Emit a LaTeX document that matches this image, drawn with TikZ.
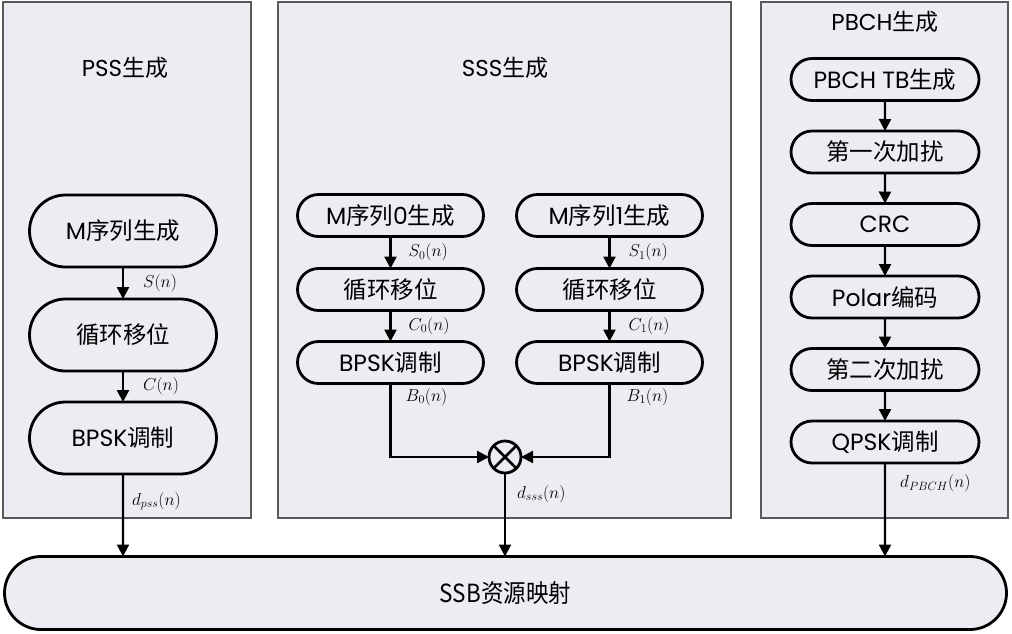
\documentclass[tikz,border=0pt]{standalone}
\usepackage{fontspec}
\setmainfont{Poppins}
\newfontfamily\cjk{Noto Sans CJK SC}
\newfontfamily\ssbfont[FakeStretch=0.9]{Noto Sans CJK SC}
\usepackage{tikz}
\usetikzlibrary{positioning,shapes.misc,arrows.meta}
\definecolor{panelbg}{RGB}{238,235,242}
\definecolor{panelline}{RGB}{90,90,90}
\tikzset{panel/.style={draw=panelline, line width=1.2pt, fill=panelbg}}
\tikzset{block/.style={rounded rectangle, draw, line width=2.8pt, fill=panelbg, outer sep=0pt,
  minimum height=42pt, inner sep=0pt, font=\fontsize{23.5}{25}\selectfont}}
\tikzset{title/.style={font=\fontsize{23}{25}\selectfont}}
\tikzset{sig/.style={-{Triangle[length=12pt,width=12pt]}, line width=2.4pt}}
\tikzset{lbl/.style={font=\fontsize{17}{19}\selectfont, inner sep=1pt}}
\tikzset{mixer/.style={circle, draw, line width=2.8pt, fill=panelbg, minimum size=32pt,
  inner sep=0pt, outer sep=0pt, path picture={
    \draw[line width=2.8pt] (path picture bounding box.north west) -- (path picture bounding box.south east)
      (path picture bounding box.north east) -- (path picture bounding box.south west);}}}

\begin{document}
\begin{tikzpicture}[x=1pt,y=-1pt,node distance=28pt]
  \useasboundingbox (0,0) rectangle (1012,633);
  % the three background panels
  \draw[panel] (3,2) rectangle (251,518);
  \draw[panel] (278,2) rectangle (731,518);
  \draw[panel] (761,2) rectangle (1008,518);

  \node[title] (pssTitle) at (125,68) {PSS{\cjk 生成}};
  \node[title] (sssTitle) at (505,68) {SSS{\cjk 生成}};
  \node[title] (pbchTitle) at (885,22) {PBCH{\cjk 生成}};

  % PSS chain
  \node[block, minimum width=187pt, minimum height=72pt] (pssM) at (123,231) {M{\cjk 序列生成}};
  \node[block, minimum width=187pt, minimum height=72pt] (pssShift) [below=32pt of pssM] {{\cjk 循环移位}};
  \node[block, minimum width=187pt, minimum height=72pt] (pssBpsk) [below=31pt of pssShift] {BPSK{\cjk 调制}};

  % SSS chains, sequence 0 left and sequence 1 right
  \node[block, minimum width=186pt] (sss0M) at (390.5,215.5) {M{\cjk 序列}0{\cjk 生成}};
  \node[block, minimum width=186pt] (sss0Shift) [below=32pt of sss0M] {{\cjk 循环移位}};
  \node[block, minimum width=186pt] (sss0Bpsk) [below=31pt of sss0Shift] {BPSK{\cjk 调制}};
  \node[block, minimum width=186pt] (sss1M) at (609.5,215.5) {M{\cjk 序列}1{\cjk 生成}};
  \node[block, minimum width=186pt] (sss1Shift) [below=32pt of sss1M] {{\cjk 循环移位}};
  \node[block, minimum width=186pt] (sss1Bpsk) [below=31pt of sss1Shift] {BPSK{\cjk 调制}};
  \node[mixer] (mult) at (505,457) {};

  % PBCH chain
  \node[block, minimum width=188pt] (pbch1) at (885,79.5) {PBCH TB{\cjk 生成}};
  \node[block, minimum width=188pt] (pbch2) [below=30.5pt of pbch1] {{\cjk 第一次加扰}};
  \node[block, minimum width=188pt] (pbch3) [below=30.5pt of pbch2] {CRC};
  \node[block, minimum width=188pt] (pbch4) [below=30.5pt of pbch3] {Polar{\cjk 编码}};
  \node[block, minimum width=188pt] (pbch5) [below=30.5pt of pbch4] {{\cjk 第二次加扰}};
  \node[block, minimum width=188pt] (pbch6) [below=30.5pt of pbch5] {QPSK{\cjk 调制}};

  % resource mapping
  \node[block, minimum width=1002pt, minimum height=73pt, font=\fontsize{25}{27}\ssbfont] (ssb) at (505.5,593) {SSB资源映射};

  \draw[sig] (pssM) -- node[lbl, right=18pt] {$S(n)$} (pssShift);
  \draw[sig] (pssShift) -- node[lbl, right=18pt] {$C(n)$} (pssBpsk);
  \draw[sig] (pssBpsk) -- node[lbl, pos=0.33, right=7pt] {$d_{pss}(n)$} (pssBpsk |- ssb.north);

  \draw[sig] (sss0M) -- node[lbl, right=16pt] {$S_0(n)$} (sss0Shift);
  \draw[sig] (sss0Shift) -- node[lbl, right=16pt] {$C_0(n)$} (sss0Bpsk);
  \draw[sig] (sss1M) -- node[lbl, right=17pt] {$S_1(n)$} (sss1Shift);
  \draw[sig] (sss1Shift) -- node[lbl, right=17pt] {$C_1(n)$} (sss1Bpsk);
  \draw[sig] (sss0Bpsk) |- node[lbl, pos=0.09, right=13pt] {$B_0(n)$} (mult);
  \draw[sig] (sss1Bpsk) |- node[lbl, pos=0.09, right=15pt] {$B_1(n)$} (mult);
  \draw[sig] (mult) -- node[lbl, pos=0.25, right=10pt] {$d_{sss}(n)$} (mult |- ssb.north);

  \foreach \a/\b in {pbch1/pbch2, pbch2/pbch3, pbch3/pbch4, pbch4/pbch5, pbch5/pbch6}
    \draw[sig] (\a) -- (\b);
  \draw[sig] (pbch6) -- node[lbl, pos=0.22, right=13pt] {$d_{PBCH}(n)$} (pbch6 |- ssb.north);
\end{tikzpicture}
\end{document}
